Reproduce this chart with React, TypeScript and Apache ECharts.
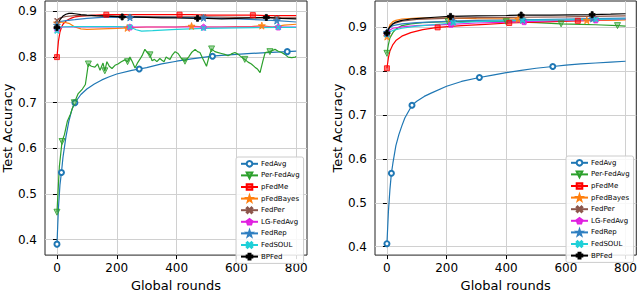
import React, { useEffect, useRef } from "react";
import * as echarts from "echarts";

const SERIES_NAMES = ["FedAvg", "Per-FedAvg", "pFedMe", "pFedBayes", "FedPer", "LG-FedAvg", "FedRep", "FedSOUL", "BPFed"];
const X_TICKS = [0, 200, 400, 600, 800];
const Y_TICKS = [0.4, 0.5, 0.6, 0.7, 0.8, 0.9];

// ---------- Left panel ----------
const L_FedAvg = [[0,0.39],[5,0.47],[10,0.52],[15,0.547],[20,0.58],[30,0.625],[40,0.66],[50,0.685],[60,0.70],[80,0.718],[100,0.73],[125,0.741],[150,0.75],[175,0.757],[200,0.763],[250,0.771],[275,0.774],[300,0.777],[350,0.785],[400,0.791],[450,0.796],[520,0.802],[550,0.804],[600,0.806],[650,0.808],[700,0.81],[770,0.812],[800,0.813]];
const L_FedAvg_M = [0,15,60,275,520,770];
const L_PerFedAvg = [[0,0.46],[8,0.56],[17,0.615],[25,0.63],[35,0.66],[45,0.675],[58,0.70],[71,0.72],[85,0.73],[95,0.74],[105,0.785],[115,0.78],[127,0.778],[136,0.785],[144,0.771],[154,0.787],[160,0.77],[167,0.79],[175,0.78],[184,0.775],[194,0.782],[204,0.785],[215,0.79],[227,0.794],[236,0.79],[244,0.80],[252,0.79],[261,0.776],[270,0.788],[278,0.796],[286,0.805],[294,0.817],[302,0.81],[311,0.805],[318,0.792],[326,0.795],[334,0.79],[344,0.797],[351,0.793],[358,0.79],[365,0.80],[372,0.797],[378,0.795],[386,0.805],[395,0.812],[405,0.808],[417,0.796],[428,0.791],[440,0.80],[450,0.81],[462,0.817],[470,0.812],[478,0.81],[489,0.795],[500,0.78],[508,0.80],[517,0.818],[528,0.812],[539,0.81],[550,0.808],[561,0.806],[572,0.803],[583,0.807],[595,0.81],[606,0.806],[617,0.80],[628,0.795],[639,0.789],[650,0.785],[662,0.778],[670,0.774],[679,0.766],[688,0.79],[696,0.81],[712,0.812],[729,0.817],[740,0.813],[751,0.81],[762,0.806],[773,0.80],[785,0.799],[796,0.80],[800,0.801]];
const L_PerFedAvg_M = [0,17,58,105,160,236,311,428,517,628,712];
const L_pFedMe = [[0,0.80],[5,0.835],[10,0.855],[15,0.865],[20,0.872],[30,0.879],[40,0.883],[50,0.886],[60,0.888],[80,0.89],[100,0.891],[130,0.892],[165,0.893],[200,0.893],[250,0.893],[300,0.893],[350,0.893],[410,0.893],[450,0.893],[500,0.892],[550,0.892],[600,0.892],[655,0.892],[700,0.891],[750,0.891],[800,0.891]];
const L_pFedMe_M = [0,165,410,655];
const L_pFedBayes = [[0,0.875],[10,0.876],[20,0.877],[40,0.874],[60,0.866],[80,0.862],[100,0.861],[150,0.862],[200,0.863],[235,0.864],[300,0.866],[350,0.866],[400,0.866],[450,0.868],[500,0.866],[550,0.866],[600,0.867],[650,0.867],[685,0.869],[720,0.866],[760,0.87],[800,0.872]];
const L_pFedBayes_M = [0,235,450,685];
const L_FedPer = [[0,0.88],[10,0.886],[30,0.889],[60,0.891],[100,0.891],[200,0.89],[244,0.889],[300,0.889],[400,0.888],[490,0.888],[600,0.887],[735,0.886],[800,0.886]];
const L_FedPer_M = [0,244,490,735];
const L_LGFedAvg = [[0,0.862],[20,0.866],[100,0.866],[200,0.866],[244,0.866],[400,0.866],[490,0.866],[600,0.866],[740,0.866],[800,0.866]];
const L_LGFedAvg_M = [0,244,490,740];
const L_FedRep = [[0,0.87],[10,0.878],[30,0.88],[60,0.882],[100,0.885],[150,0.887],[200,0.887],[244,0.887],[300,0.887],[400,0.887],[490,0.886],[600,0.884],[700,0.881],[735,0.88],[800,0.877]];
const L_FedRep_M = [0,244,490,735];
const L_FedSOUL = [[0,0.857],[10,0.866],[50,0.867],[100,0.867],[200,0.867],[244,0.866],[265,0.86],[283,0.857],[320,0.858],[400,0.861],[490,0.863],[600,0.864],[740,0.865],[800,0.865]];
const L_FedSOUL_M = [0,244,490,740];
const L_BPFed = [[0,0.865],[5,0.875],[10,0.882],[20,0.89],[30,0.894],[40,0.896],[50,0.896],[60,0.895],[80,0.893],[100,0.892],[130,0.891],[165,0.89],[218,0.888],[250,0.888],[300,0.887],[350,0.886],[400,0.886],[470,0.885],[500,0.885],[550,0.884],[600,0.885],[650,0.886],[700,0.887],[750,0.885],[800,0.884]];
const L_BPFed_M = [0,218,470,700];

// ---------- Right panel ----------
const R_FedAvg = [[0,0.407],[5,0.48],[10,0.53],[15,0.567],[20,0.59],[30,0.63],[40,0.655],[50,0.675],[60,0.693],[84,0.722],[100,0.731],[125,0.742],[150,0.75],[200,0.765],[250,0.776],[310,0.785],[350,0.79],[400,0.796],[450,0.801],[500,0.806],[556,0.81],[600,0.813],[650,0.816],[700,0.818],[750,0.82],[800,0.822]];
const R_FedAvg_M = [0,15,84,310,556];
const R_PerFedAvg = [[0,0.84],[5,0.86],[10,0.875],[20,0.887],[30,0.895],[50,0.903],[80,0.907],[120,0.91],[205,0.912],[300,0.913],[400,0.912],[500,0.91],[584,0.907],[650,0.906],[700,0.905],[773,0.903],[800,0.902]];
const R_PerFedAvg_M = [0,205,400,584,773];
const R_pFedMe = [[0,0.806],[5,0.83],[10,0.845],[20,0.86],[30,0.869],[50,0.879],[80,0.887],[120,0.894],[170,0.899],[250,0.903],[330,0.906],[410,0.909],[500,0.911],[640,0.914],[720,0.915],[800,0.917]];
const R_pFedMe_M = [0,170,410,640];
const R_pFedBayes = [[0,0.878],[5,0.895],[10,0.905],[20,0.912],[30,0.915],[50,0.918],[100,0.92],[213,0.92],[300,0.919],[440,0.918],[500,0.916],[600,0.915],[670,0.915],[800,0.916]];
const R_pFedBayes_M = [0,213,440,670];
const R_FedPer = [[0,0.884],[10,0.9],[20,0.907],[50,0.913],[100,0.917],[220,0.92],[300,0.921],[455,0.922],[600,0.923],[690,0.924],[800,0.925]];
const R_FedPer_M = [0,220,455,690];
const R_LGFedAvg = [[0,0.885],[10,0.893],[20,0.897],[50,0.9],[100,0.903],[215,0.906],[300,0.909],[460,0.912],[600,0.915],[700,0.916],[800,0.918]];
const R_LGFedAvg_M = [0,215,460,700];
const R_FedRep = [[0,0.888],[10,0.899],[20,0.903],[50,0.907],[100,0.91],[222,0.913],[300,0.915],[455,0.916],[600,0.918],[690,0.919],[800,0.92]];
const R_FedRep_M = [0,222,455,690];
const R_FedSOUL = [[0,0.882],[10,0.889],[20,0.892],[50,0.897],[100,0.902],[222,0.909],[300,0.912],[455,0.915],[600,0.916],[700,0.917],[800,0.918]];
const R_FedSOUL_M = [0,222,455,700];
const R_BPFed = [[0,0.886],[5,0.895],[10,0.9],[20,0.907],[30,0.911],[50,0.915],[80,0.918],[120,0.92],[160,0.922],[213,0.924],[300,0.925],[400,0.926],[450,0.927],[550,0.927],[688,0.928],[750,0.929],[800,0.93]];
const R_BPFed_M = [0,213,450,688];

const STAR = "path://M0,-10 L2.35,-3.24 L9.51,-3.09 L3.8,1.24 L5.88,8.09 L0,4 L-5.88,8.09 L-3.8,1.24 L-9.51,-3.09 L-2.35,-3.24 Z";
const XMARK = "path://M-10,-7 L-7,-10 L0,-3 L7,-10 L10,-7 L3,0 L10,7 L7,10 L0,3 L-7,10 L-10,7 L-3,0 Z";
const PLUS = "path://M-3.5,-10 L3.5,-10 L3.5,-3.5 L10,-3.5 L10,3.5 L3.5,3.5 L3.5,10 L-3.5,10 L-3.5,3.5 L-10,3.5 L-10,-3.5 L-3.5,-3.5 Z";
const PENTAGON = "path://M0,-10 L9.51,-3.09 L5.88,8.09 L-5.88,8.09 L-9.51,-3.09 Z";

const STYLES: Record<string, any> = {
  "FedAvg": { color: "#1f77b4", symbol: "emptyCircle", size: 5, fill: "#ffffff" },
  "Per-FedAvg": { color: "#2ca02c", symbol: "triangle", size: 6, rotate: 180, fill: "rgba(44,160,44,0.45)" },
  "pFedMe": { color: "#ff0000", symbol: "rect", size: 5, fill: "rgba(255,0,0,0.55)" },
  "pFedBayes": { color: "#ff7f0e", symbol: STAR, size: 7, fill: "rgba(255,127,14,0.8)" },
  "FedPer": { color: "#8c564b", symbol: XMARK, size: 5, fill: "rgba(140,86,75,0.8)" },
  "LG-FedAvg": { color: "#e020e0", symbol: PENTAGON, size: 6, fill: "rgba(224,32,224,0.8)" },
  "FedRep": { color: "#2f7fc1", symbol: STAR, size: 7, fill: "rgba(47,127,193,0.85)" },
  "FedSOUL": { color: "#1fd0d8", symbol: XMARK, size: 5, fill: "rgba(31,208,216,0.85)" },
  "BPFed": { color: "#000000", symbol: PLUS, size: 6, fill: "#000000" },
};

function mk(name: string, pts: number[][], marks: number[], gi: number) {
  const s = STYLES[name];
  return {
    type: "line",
    name,
    xAxisIndex: gi,
    yAxisIndex: gi,
    symbol: s.symbol,
    symbolSize: s.size,
    symbolRotate: s.rotate || 0,
    showSymbol: true,
    showAllSymbol: true,
    silent: true,
    emphasis: { disabled: true },
    lineStyle: { color: s.color, width: 1.2 },
    itemStyle: {
      color: s.symbol === "emptyCircle" ? s.color : s.fill,
      borderColor: s.color,
      borderWidth: s.symbol === "emptyCircle" ? 1.2 : 0.8,
    },
    data: pts.map(([x, y]) =>
      marks.includes(x) ? { value: [x, y] } : { value: [x, y], symbol: "none" }
    ),
  };
}

const FONT = "DejaVu Sans";

function axisPair(gi: number, yMin: number, yMax: number) {
  const x = {
    type: "value",
    gridIndex: gi,
    min: -40,
    max: 836,
    name: "Global rounds",
    nameLocation: "middle",
    nameGap: 19,
    nameTextStyle: { fontSize: 13, color: "#000", fontFamily: FONT },
    axisLine: { show: false },
    axisTick: { show: true, length: 4, lineStyle: { color: "#000" }, customValues: X_TICKS },
    axisLabel: { color: "#000", fontSize: 12, fontFamily: FONT, margin: 7, customValues: X_TICKS },
    splitLine: { show: true, lineStyle: { color: "#d0d0d0", width: 1 } },
  };
  const y = {
    type: "value",
    gridIndex: gi,
    min: yMin,
    max: yMax,
    name: "Test Accuracy",
    nameLocation: "middle",
    nameGap: 31,
    nameTextStyle: { fontSize: 13, color: "#000", fontFamily: FONT },
    axisLine: { show: false },
    axisTick: { show: true, length: 4, lineStyle: { color: "#000" }, customValues: Y_TICKS },
    axisLabel: { color: "#000", fontSize: 12, fontFamily: FONT, margin: 8, customValues: Y_TICKS, formatter: (v: number) => v.toFixed(1) },
    splitLine: { show: true, lineStyle: { color: "#d0d0d0", width: 1 } },
  };
  return { x, y };
}

function legend(left: number, top: number) {
  return {
    orient: "vertical",
    left,
    top,
    data: SERIES_NAMES,
    itemWidth: 17,
    itemHeight: 7,
    itemGap: 4,
    padding: [3, 4, 3, 4],
    borderColor: "#cccccc",
    borderWidth: 1,
    borderRadius: 2,
    backgroundColor: "rgba(255,255,255,0.85)",
    textStyle: { fontSize: 7, color: "#000", fontFamily: FONT, padding: [0, 0, 0, -2] },
    selectedMode: false,
  };
}

export default function App() {
  const ref = useRef<HTMLDivElement>(null);
  useEffect(() => {
    if (!ref.current) return;
    const chart = echarts.init(ref.current, null, { renderer: "svg" });
    const a0 = axisPair(0, 0.366, 0.923);
    const a1 = axisPair(1, 0.381, 0.959);
    const left = [
      mk("FedAvg", L_FedAvg, L_FedAvg_M, 0),
      mk("Per-FedAvg", L_PerFedAvg, L_PerFedAvg_M, 0),
      mk("pFedMe", L_pFedMe, L_pFedMe_M, 0),
      mk("pFedBayes", L_pFedBayes, L_pFedBayes_M, 0),
      mk("FedPer", L_FedPer, L_FedPer_M, 0),
      mk("LG-FedAvg", L_LGFedAvg, L_LGFedAvg_M, 0),
      mk("FedRep", L_FedRep, L_FedRep_M, 0),
      mk("FedSOUL", L_FedSOUL, L_FedSOUL_M, 0),
      mk("BPFed", L_BPFed, L_BPFed_M, 0),
    ];
    const right = [
      mk("FedAvg", R_FedAvg, R_FedAvg_M, 1),
      mk("Per-FedAvg", R_PerFedAvg, R_PerFedAvg_M, 1),
      mk("pFedMe", R_pFedMe, R_pFedMe_M, 1),
      mk("pFedBayes", R_pFedBayes, R_pFedBayes_M, 1),
      mk("FedPer", R_FedPer, R_FedPer_M, 1),
      mk("LG-FedAvg", R_LGFedAvg, R_LGFedAvg_M, 1),
      mk("FedRep", R_FedRep, R_FedRep_M, 1),
      mk("FedSOUL", R_FedSOUL, R_FedSOUL_M, 1),
      mk("BPFed", R_BPFed, R_BPFed_M, 1),
    ];
    chart.setOption({
      animation: false,
      backgroundColor: "#ffffff",
      textStyle: { fontFamily: FONT },
      grid: [
        { left: 45, top: 1, width: 262, height: 261, show: true, borderColor: "#222", borderWidth: 1, backgroundColor: "transparent" },
        { left: 375, top: 1, width: 262, height: 261, show: true, borderColor: "#222", borderWidth: 1, backgroundColor: "transparent" },
      ],
      xAxis: [a0.x, a1.x],
      yAxis: [a0.y, a1.y],
      legend: [legend(236, 157), legend(566, 156)],
      series: [...left, ...right],
    });
    return () => chart.dispose();
  }, []);
  return <div ref={ref} style={{ position: "absolute", left: 0, top: 0, width: 640, height: 297 }} />;
}
